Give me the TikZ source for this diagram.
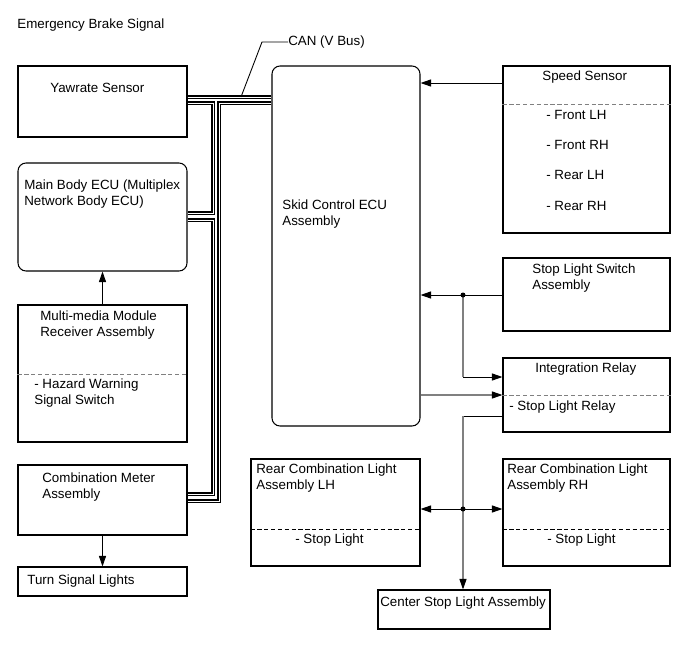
\documentclass[tikz,border=0pt]{standalone}
\usepackage{fontspec}
\setmainfont{Liberation Sans}
\usetikzlibrary{positioning, arrows.meta, fit}
\newcommand{\sepline}[3][sep]{% style, box, y
  \draw[#1] (#2.west |- 0,#3) -- (#2.east |- 0,#3);
}

\begin{document}
\begin{tikzpicture}[
    x=0.02cm, y=-0.02cm,
    >={Triangle[length=2.1mm,width=1.4mm]},
    font=\fontsize{7.6}{8.8}\selectfont,
    box/.style={draw, line width=0.6pt, inner sep=0pt},
    rbox/.style={box, rounded corners=1.6mm},
    txt/.style={anchor=west, inner sep=0pt, align=left},
    arr/.style={->, line width=0.55pt},
    gline/.style={gray, line width=0.6pt},
    garr/.style={gline, -{Triangle[length=2.1mm,width=1.4mm,color=black]}},
    sep/.style={gray, line width=0.5pt, dash pattern=on 2.4pt off 1.5pt},
    ksep/.style={sep, black},
    can/.style={double=white, double distance=0.55pt, line width=0.75pt},
    dot/.style={circle, fill, inner sep=0pt, minimum size=1mm}
  ]
\useasboundingbox (0,0) rectangle (691,660);

\node[txt] (title) at (17,25) {Emergency Brake Signal};

% =================== left column ===================
\node[box, fit={(18,66) (187,137)}] (yaw) {};
\node[txt] (yawt) at (50,88) {Yawrate Sensor};

\node[rbox, fit={(18,163) (187,271)}] (mbecu) {};
\node[txt] (mbecut) at (24,194) {Main Body ECU (Multiplex\\Network Body ECU)};

\node[box, fit={(18,305) (187,442)}] (mmr) {};
\node[txt] (mmrt) at (40,325) {Multi-media Module\\Receiver Assembly};
\sepline{mmr}{374}
\node[txt] (hazard) at (34,393) {- Hazard Warning\\Signal Switch};

\node[box, fit={(18,465) (187,535)}] (cmeter) {};
\node[txt] (cmetert) at (42,487) {Combination Meter\\Assembly};

\node[box, fit={(18,567) (187,596)}] (turn) {};
\node[txt] (turnt) at (27,581) {Turn Signal Lights};

\draw[arr] (mmr.north) -- (mbecu.south);
\draw[arr] (cmeter.south) -- (turn.north);

% =================== skid control ECU + CAN ===================
\node[rbox, fit={(272,66) (420,426)}] (skid) {};
\node[txt] (skidt) at (282,214) {Skid Control ECU\\Assembly};

\draw[can] (yaw.east |- 0,97) -- (skid.west |- 0,97);
\draw[can] (yaw.east |- 0,103) -| (213,213) -- (mbecu.east |- 0,213);
\draw[can] (mbecu.east |- 0,220) -| (213,494) -- (cmeter.east |- 0,494);
\draw[can] (skid.west |- 0,103) -| (219,501) -- (cmeter.east |- 0,501);

\node[txt] (can) at (288,42) {CAN (V Bus)};
\coordinate (canpt) at (241,97);
\draw[line width=0.5pt] (can.west) -- ++(-26,0) -- (canpt);

% =================== right column ===================
\node[box, fit={(503,66) (670,233)}] (speed) {};
\node[txt] (speedt) at (542,77) {Speed Sensor};
\sepline{speed}{104}
\node[txt] (fl) at (546,115) {- Front LH};
\node[txt] (fr) at (546,145) {- Front RH};
\node[txt] (rl) at (546,175) {- Rear LH};
\node[txt] (rr) at (546,206) {- Rear RH};

\node[box, fit={(503,258) (670,331)}] (slsw) {};
\node[txt] (slswt) at (532,278) {Stop Light Switch\\Assembly};

\node[box, fit={(503,358) (670,432)}] (irelay) {};
\node[txt] (irelayt) at (535,369) {Integration Relay};
\sepline{irelay}{395}
\node[txt] (slrelay) at (509,407) {- Stop Light Relay};

\draw[arr] (speed.west |- 0,83) -- (skid.east |- 0,83);

\coordinate (j1) at (463,295);
\coordinate (b1) at (463,377);
\coordinate (b2) at (463,416);
\draw[arr] (slsw.west |- j1) -- (skid.east |- j1);
\draw[gline] (j1) -- (b1);
\draw[arr] (b1) -- (irelay.west |- b1);
\draw[garr] (skid.east |- 0,395) -- (irelay.west |- 0,395);
\node[dot] (d1) at (j1) {};

% =================== stop lights ===================
\node[box, fit={(251,459) (420,566)}] (rcl) {};
\node[txt] (rclt) at (256,478) {Rear Combination Light\\Assembly LH};
\sepline[ksep]{rcl}{529}
\node[txt] (rcls) at (295,540) {- Stop Light};

\node[box, fit={(503,459) (670,566)}] (rcr) {};
\node[txt] (rcrt) at (507,478) {Rear Combination Light\\Assembly RH};
\sepline[ksep]{rcr}{529}
\node[txt] (rcrs) at (547,540) {- Stop Light};

\node[box, fit={(378,590) (550,629)}] (csl) {};
\node[txt] (cslt) at (380,603) {Center Stop Light Assembly};

\coordinate (j2) at (463,509);
\draw[line width=0.55pt] (irelay.west |- b2) -- (b2);
\draw[garr] (b2) -- (csl.north -| b2);
\draw[arr] (j2) -- (rcl.east |- j2);
\draw[arr] (j2) -- (rcr.west |- j2);
\node[dot] (d2) at (j2) {};

\end{tikzpicture}
\end{document}
